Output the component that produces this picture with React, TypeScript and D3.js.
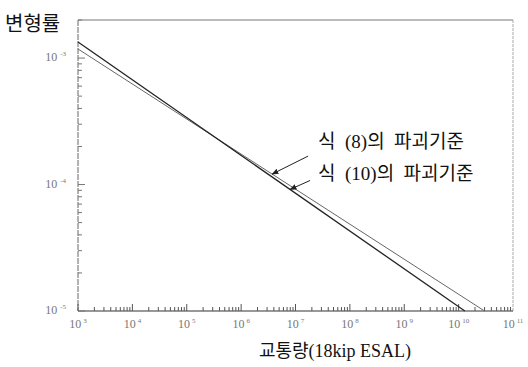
import * as d3 from "d3";

// criterion lines: [traffic N, strain]
const line8 = [
     { n: 1e3, e: 1.18e-3 },
     { n: 3.0e10, e: 1e-5 },
];
const line10 = [
     { n: 1e3, e: 1.34e-3 },
     { n: 1.3e10, e: 1e-5 },
];
const labels = ["식  (8)의  파괴기준", "식  (10)의  파괴기준"];
const arrowAt = [10 ** 6.57, 10 ** 6.9]; // where each arrow hits its line
const xDecades = [3, 4, 5, 6, 7, 8, 9, 10, 11];
const yDecades = [-3, -4, -5];

const W = 528;
const H = 367;
const m = { left: 78, right: 15, top: 20, bottom: 56 };

const serif = "'Liberation Serif', 'DejaVu Serif', 'Noto Sans CJK KR', serif";

// strain on a straight log-log line at traffic n
const strainAt = (pts: { n: number; e: number }[], n: number) => {
     const t = (Math.log10(n) - Math.log10(pts[0].n)) / (Math.log10(pts[1].n) - Math.log10(pts[0].n));
     return 10 ** (Math.log10(pts[0].e) + t * (Math.log10(pts[1].e) - Math.log10(pts[0].e)));
};

export default function App() {
     const x = d3.scaleLog().domain([1e3, 1e11]).range([m.left, W - m.right]);
     const y = d3.scaleLog().domain([1e-5, 2e-3]).range([H - m.bottom, m.top]);
     const x0 = m.left;
     const x1 = W - m.right;
     const y0 = H - m.bottom;
     const y1 = m.top;

     const line = d3
          .line<{ n: number; e: number }>()
          .x((d) => x(d.n))
          .y((d) => y(d.e));

     // minor ticks 1..9 per decade
     const xTicks: { v: number; major: boolean }[] = [];
     for (let d = 3; d < 11; d++) for (let k = 1; k < 10; k++) xTicks.push({ v: k * 10 ** d, major: k === 1 });
     const yTicks: { v: number; major: boolean }[] = [];
     for (let d = -5; d < -2; d++)
          for (let k = 1; k < 10; k++) {
               const v = k * 10 ** d;
               if (v <= 2e-3) yTicks.push({ v, major: k === 1 });
          }

     const series = [line8, line10];
     const offs = [
          [36, -18],
          [20, -9],
     ];

     return (
          <svg width={W} height={H} style={{ position: "absolute", left: 0, top: 0, background: "#fff" }}>
               <defs>
                    <marker id="ah" viewBox="0 0 10 10" refX="9" refY="5" markerWidth="7" markerHeight="7" orient="auto">
                         <path d="M0,1 L10,5 L0,9 z" fill="#222" />
                    </marker>
               </defs>

               {/* frame */}
               <line x1={x0} x2={x1} y1={y1} y2={y1} stroke="#777" strokeWidth={1} />
               <line x1={x1} x2={x1} y1={y1} y2={y0} stroke="#aaa" strokeWidth={1} strokeDasharray="3,1" />
               <line x1={x0} x2={x0} y1={y1} y2={y0} stroke="#666" strokeWidth={1} strokeDasharray="6,1" />
               <line x1={x0} x2={x1} y1={y0} y2={y0} stroke="#333" strokeWidth={1} />

               {xTicks.map((t, i) => (
                    <line key={"xt" + i} x1={x(t.v)} x2={x(t.v)} y1={y0} y2={y0 - (t.major ? 7 : 4)} stroke="#555" strokeWidth={1} />
               ))}
               {yTicks.map((t, i) => (
                    <line key={"yt" + i} x1={x0} x2={x0 + (t.major ? 7 : 4)} y1={y(t.v)} y2={y(t.v)} stroke="#777" strokeWidth={1} />
               ))}

               {xDecades.map((d) => (
                    <text key={"xl" + d} x={x(10 ** d)} y={y0 + 17} textAnchor="middle" fontFamily={serif} fontSize={12} fill="#777">
                         10
                         <tspan dx={2} dy={-5} fontSize={7}>
                              {d}
                         </tspan>
                    </text>
               ))}
               {yDecades.map((d) => (
                    <text key={"yl" + d} x={x0 - 12} y={y(10 ** d) + 3} textAnchor="end" fontFamily={serif} fontSize={12} fill="#777">
                         10
                         <tspan dx={3} dy={-5} fontSize={7}>
                              {"-" + Math.abs(d)}
                         </tspan>
                    </text>
               ))}

               {/* criterion lines */}
               <path d={line(line8) ?? ""} fill="none" stroke="#666" strokeWidth={1} />
               <path d={line(line10) ?? ""} fill="none" stroke="#222" strokeWidth={1.3} />

               {series.map((s, i) => {
                    const tx = x(arrowAt[i]);
                    const ty = y(strainAt(s, arrowAt[i]));
                    return (
                         <line
                              key={"ar" + i}
                              x1={tx + offs[i][0]}
                              y1={ty + offs[i][1]}
                              x2={tx}
                              y2={ty}
                              stroke="#222"
                              strokeWidth={1}
                              markerEnd="url(#ah)"
                         />
                    );
               })}

               {labels.map((l, i) => (
                    <text key={"lb" + i} x={318} y={148 + i * 32} fontFamily={serif} fontSize={19} fill="#111" style={{ whiteSpace: "pre" }}>
                         {l}
                    </text>
               ))}

               <text x={5} y={31} fontFamily={serif} fontSize={20} fill="#111">
                    변형률
               </text>
               <text x={335} y={357} textAnchor="middle" fontFamily={serif} fontSize={18} fill="#111">
                    교통량(18kip ESAL)
               </text>
          </svg>
     );
}
